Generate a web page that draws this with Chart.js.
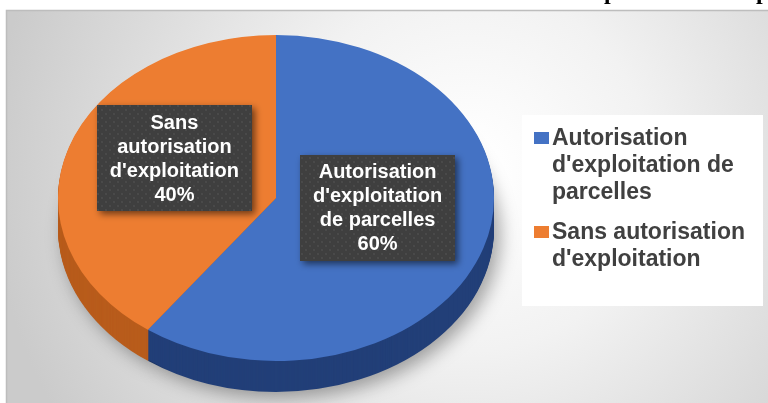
<!DOCTYPE html>
<html>
<head>
<meta charset="utf-8">
<script src="https://cdn.jsdelivr.net/npm/chart.js@4.4.1/dist/chart.umd.min.js"></script>
<style>
  html, body { margin: 0; padding: 0; background: #ffffff; overflow: hidden; }
  #pieCanvas { display: block; }
</style>
</head>
<body>
<canvas id="pieCanvas" width="768" height="403"></canvas>
<script>
// Chart values
const categories = ["Autorisation d'exploitation de parcelles", "Sans autorisation d'exploitation"];
const shares = [60, 40];
const sliceColors = ['#4472C4', '#ED7D31'];
const sideColors = ['#223F78', '#B85C1C'];
const labelLines = [["Autorisation", "d'exploitation", "de parcelles"], ["Sans", "autorisation", "d'exploitation"]];
const legendLines = [["Autorisation", "d'exploitation de", "parcelles"], ["Sans autorisation", "d'exploitation"]];

const STRETCH_X = 218 / 163; // the tilted pie is wider than tall
const DEPTH = 31;

function boldFont(px) { return 'bold ' + px + 'px "Liberation Sans", Arial, sans-serif'; }

// dotted fill used by the data label boxes
function makeDotPattern(ctx) {
    const tile = document.createElement('canvas');
    tile.width = 8; tile.height = 8;
    const t = tile.getContext('2d');
    t.fillStyle = '#3f3f3f';
    t.fillRect(0, 0, 8, 8);
    t.fillStyle = '#4d4d4d';
    [[2, 2], [6, 6]].forEach(p => { t.beginPath(); t.arc(p[0], p[1], 1.1, 0, Math.PI * 2); t.fill(); });
    return ctx.createPattern(tile, 'repeat');
}

const frameBackground = {
    id: 'frameBackground',
    beforeDraw(chart) {
        const ctx = chart.ctx;
        ctx.save();
        ctx.fillStyle = '#ffffff';
        ctx.fillRect(0, 0, 768, 403);
        // bits of the cut off heading above the frame
        ctx.beginPath(); ctx.rect(0, 0, 768, 10); ctx.clip();
        ctx.fillStyle = '#000000';
        ctx.font = 'bold 24px "Liberation Serif", serif';
        ctx.fillText('p', 604, -1);
        ctx.fillText('p', 756, -1);
        ctx.restore();

        ctx.save();
        const g = ctx.createRadialGradient(470, 170, 20, 470, 170, 480);
        g.addColorStop(0, '#ffffff');
        g.addColorStop(0.35, '#f2f2f2');
        g.addColorStop(1, '#cbcbcb');
        ctx.fillStyle = g;
        ctx.fillRect(6, 10, 762, 393);
        ctx.strokeStyle = '#bdbdbd';
        ctx.lineWidth = 1.5;
        ctx.beginPath();
        ctx.moveTo(6.5, 403); ctx.lineTo(6.5, 10.5); ctx.lineTo(768, 10.5);
        ctx.stroke();
        ctx.restore();
    }
};

const tiltedPie = {
    id: 'tiltedPie',
    beforeDatasetsDraw(chart) {
        const ctx = chart.ctx;
        const arcs = chart.getDatasetMeta(0).data;
        const cx = arcs[0].x, cy = arcs[0].y;
        ctx.save();
        ctx.translate(cx, cy);
        ctx.scale(STRETCH_X, 1);
        ctx.translate(-cx, -cy);
        // side walls: stacked copies of the slices, shifted down
        for (let d = DEPTH; d >= 1; d--) {
            arcs.forEach((a, i) => {
                ctx.save();
                if (d === DEPTH) {
                    ctx.shadowColor = 'rgba(0,0,0,0.35)';
                    ctx.shadowBlur = 18;
                    ctx.shadowOffsetX = 6;
                    ctx.shadowOffsetY = 6;
                }
                ctx.beginPath();
                ctx.moveTo(a.x, a.y + d);
                ctx.arc(a.x, a.y + d, a.outerRadius, a.startAngle, a.endAngle);
                ctx.closePath();
                ctx.fillStyle = sideColors[i];
                ctx.fill();
                ctx.restore();
            });
        }
        // the transform stays on while Chart.js draws the top faces
    },
    afterDatasetsDraw(chart) {
        chart.ctx.restore();
    }
};

const labelBoxes = {
    id: 'labelBoxes',
    afterDraw(chart) {
        const ctx = chart.ctx;
        const arcs = chart.getDatasetMeta(0).data;
        const pattern = makeDotPattern(ctx);
        const lineH = 24;
        arcs.forEach((a, i) => {
            const mid = (a.startAngle + a.endAngle) / 2;
            const r = a.outerRadius * 0.49;
            const lx = a.x + Math.cos(mid) * r * STRETCH_X;
            const ly = a.y + Math.sin(mid) * r - 15;
            const lines = labelLines[i].concat([shares[i] + '%']);
            ctx.save();
            ctx.font = boldFont(20);
            const w = 155;
            const h = lines.length * lineH + 10;
            ctx.shadowColor = 'rgba(0,0,0,0.55)';
            ctx.shadowBlur = 7;
            ctx.shadowOffsetX = 3;
            ctx.shadowOffsetY = 3;
            ctx.fillStyle = pattern;
            ctx.fillRect(Math.round(lx - w / 2), Math.round(ly - h / 2), w, h);
            ctx.shadowColor = 'transparent';
            ctx.fillStyle = '#ffffff';
            ctx.textAlign = 'center';
            ctx.textBaseline = 'middle';
            lines.forEach((t, k) => {
                ctx.fillText(t, lx, ly - h / 2 + 5 + lineH / 2 + k * lineH + 1);
            });
            ctx.restore();
        });
    }
};

const sideLegend = {
    id: 'sideLegend',
    afterDraw(chart) {
        const ctx = chart.ctx;
        ctx.save();
        ctx.fillStyle = '#ffffff';
        ctx.fillRect(522, 115, 241, 191);
        ctx.font = boldFont(23);
        ctx.textBaseline = 'middle';
        let y = 138;
        legendLines.forEach((lines, i) => {
            ctx.fillStyle = sliceColors[i];
            ctx.fillRect(534, y - 6, 15, 12);
            ctx.fillStyle = '#404040';
            lines.forEach((t, k) => ctx.fillText(t, 552, y + k * 27 + 1));
            y += lines.length * 27 + 13;
        });
        ctx.restore();
    }
};

new Chart(document.getElementById('pieCanvas'), {
    type: 'pie',
    data: {
        labels: categories,
        datasets: [{
            data: shares,
            backgroundColor: sliceColors,
            borderWidth: 0,
            clip: false
        }]
    },
    options: {
        responsive: false,
        devicePixelRatio: 1,
        animation: false,
        events: [],
        layout: { padding: { left: 113, right: 329, top: 35, bottom: 42 } },
        plugins: { legend: { display: false }, tooltip: { enabled: false } }
    },
    plugins: [frameBackground, tiltedPie, labelBoxes, sideLegend]
});
</script>
</body>
</html>
